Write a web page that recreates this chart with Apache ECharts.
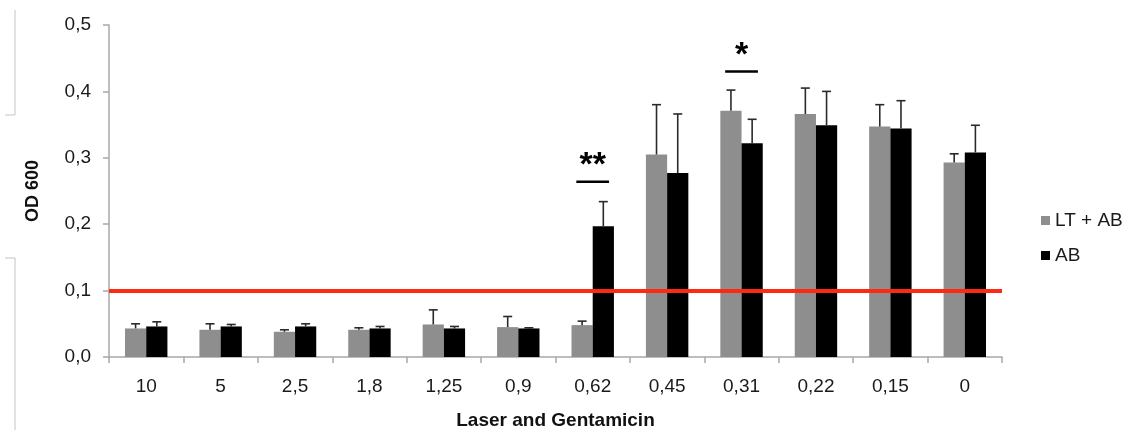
<!DOCTYPE html>
<html>
<head>
<meta charset="utf-8">
<script src="https://cdn.jsdelivr.net/npm/echarts@6/dist/echarts.min.js"></script>
<style>
  html, body { margin: 0; padding: 0; background: #fff; }
  #chart { width: 1134px; height: 430px; }
</style>
</head>
<body>
<div id="chart"></div>
<script>
// concentrations on the x axis
const categories = ['10', '5', '2,5', '1,8', '1,25', '0,9', '0,62', '0,45', '0,31', '0,22', '0,15', '0'];

// LT + AB (grey) means and SD
const ltabValues = [0.043, 0.041, 0.038, 0.041, 0.049, 0.045, 0.048, 0.305, 0.371, 0.366, 0.347, 0.293];
const ltabErrors = [0.007, 0.009, 0.003, 0.003, 0.022, 0.016, 0.006, 0.075, 0.031, 0.039, 0.033, 0.013];

// AB (black) means and SD
const abValues = [0.046, 0.046, 0.046, 0.043, 0.043, 0.043, 0.197, 0.277, 0.322, 0.349, 0.344, 0.308];
const abErrors = [0.007, 0.003, 0.004, 0.003, 0.003, 0.001, 0.037, 0.089, 0.036, 0.051, 0.042, 0.041];

// significance brackets
const sigCategories = [6, 8];
const sigLevels = [0.264, 0.430];
const sigMarks = ['**', '*'];

const threshold = 0.1;

const FONT = 'Liberation Sans, Arial, sans-serif';
const GREY = '#8e8e8e';
const BAR_GAP = 0.43;  // barCategoryGap as a fraction

// error bar drawn on top of one of the two grouped bars
function errorBarRenderer(side) {
  return function (params, api) {
    const idx = api.value(0);
    const val = api.value(1);
    const err = api.value(2);
    const band = api.size([1, 0])[0];
    const off = side * band * (1 - BAR_GAP) / 4;
    const base = api.coord([idx, val]);
    const top = api.coord([idx, val + err]);
    const x = base[0] + off;
    const style = { stroke: '#2a2a2a', lineWidth: 1.6 };
    return {
      type: 'group',
      children: [
        { type: 'line', shape: { x1: x, y1: base[1], x2: x, y2: top[1] }, style: style },
        { type: 'line', shape: { x1: x - 4.5, y1: top[1], x2: x + 4.5, y2: top[1] }, style: style }
      ]
    };
  };
}

function sigRenderer(params, api) {
  const p = api.coord([api.value(0), api.value(1)]);
  const half = api.size([1, 0])[0] * 0.22;
  return {
    type: 'group',
    children: [
      { type: 'line', shape: { x1: p[0] - half, y1: p[1], x2: p[0] + half, y2: p[1] },
        style: { stroke: '#000', lineWidth: 2.5 } },
      { type: 'text', x: p[0], y: p[1] + 1,
        style: { text: sigMarks[params.dataIndex], fill: '#000', font: 'bold 34px ' + FONT,
                 align: 'center', verticalAlign: 'bottom' } }
    ]
  };
}

const chart = echarts.init(document.getElementById('chart'));

chart.setOption({
  animation: false,
  backgroundColor: '#fff',
  textStyle: { fontFamily: FONT },
  grid: { left: 109, right: 132, top: 25, bottom: 73, containLabel: false, outerBoundsMode: 'none' },
  legend: {
    data: ['LT + AB', 'AB'],
    orient: 'vertical',
    left: 1036,
    top: 206,
    itemWidth: 9,
    itemHeight: 9,
    itemGap: 16,
    icon: 'rect',
    textStyle: { fontSize: 19, color: '#1a1a1a', fontFamily: FONT }
  },
  xAxis: {
    type: 'category',
    data: categories,
    name: 'Laser and Gentamicin',
    nameLocation: 'middle',
    nameGap: 54,
    nameTextStyle: { fontSize: 19, fontWeight: 'bold', color: '#111', fontFamily: FONT },
    axisLine: { lineStyle: { color: '#a8a8a8', width: 1.5 } },
    axisTick: { show: true, length: 6, lineStyle: { color: '#a8a8a8', width: 1.5 } },
    axisLabel: { fontSize: 19, color: '#1a1a1a', margin: 20, fontFamily: FONT }
  },
  yAxis: {
    type: 'value',
    min: 0,
    max: 0.5,
    interval: 0.1,
    name: 'OD 600',
    nameLocation: 'middle',
    nameGap: 67,
    nameTextStyle: { fontSize: 18, fontWeight: 'bold', color: '#111', fontFamily: FONT },
    axisLine: { show: true, lineStyle: { color: '#a8a8a8', width: 1.5 } },
    axisTick: { show: true, length: 6, lineStyle: { color: '#a8a8a8', width: 1.5 } },
    splitLine: { show: false },
    axisLabel: {
      fontSize: 19, color: '#1a1a1a', margin: 18, fontFamily: FONT,
      formatter: v => v.toFixed(1).replace('.', ',')
    }
  },
  series: [
    {
      name: 'LT + AB',
      type: 'bar',
      data: ltabValues,
      barGap: '0%',
      barCategoryGap: (BAR_GAP * 100) + '%',
      itemStyle: { color: GREY },
      markLine: {
        silent: true,
        symbol: 'none',
        label: { show: false },
        lineStyle: { color: '#fb2a12', width: 4, type: 'solid' },
        data: [{ yAxis: threshold }],
        z: 10
      }
    },
    {
      name: 'AB',
      type: 'bar',
      data: abValues,
      barGap: '0%',
      barCategoryGap: (BAR_GAP * 100) + '%',
      itemStyle: { color: '#000' }
    },
    {
      type: 'custom',
      renderItem: errorBarRenderer(-1),
      data: categories.map((c, i) => [i, ltabValues[i], ltabErrors[i]]),
      z: 5
    },
    {
      type: 'custom',
      renderItem: errorBarRenderer(1),
      data: categories.map((c, i) => [i, abValues[i], abErrors[i]]),
      z: 5
    },
    {
      type: 'custom',
      renderItem: sigRenderer,
      data: sigCategories.map((c, i) => [c, sigLevels[i]]),
      z: 6
    }
  ],
  graphic: [
    // crop marks left over at the page edge
    { type: 'polyline', shape: { points: [[15, 10], [15, 115], [5, 115]] },
      style: { stroke: '#c4c4c4', lineWidth: 1, fill: null } },
    { type: 'polyline', shape: { points: [[5, 258], [15, 258], [15, 430]] },
      style: { stroke: '#c4c4c4', lineWidth: 1, fill: null } }
  ]
});
</script>
</body>
</html>
